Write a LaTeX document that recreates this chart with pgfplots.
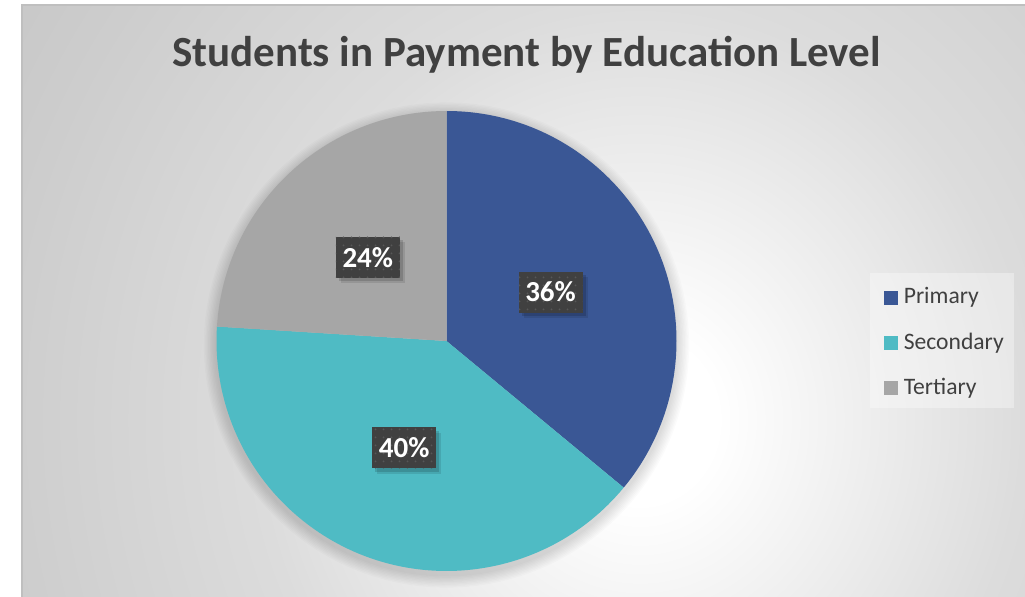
\documentclass[border=0pt]{standalone}
\usepackage{pgfplots}
\pgfplotsset{compat=1.18}
\usepackage{pgfplotstable}
\usepackage{fontspec}
\setmainfont{Carlito}
\usetikzlibrary{patterns.meta,shadows}

\definecolor{cPrimary}{HTML}{3A5795}
\definecolor{cSecondary}{HTML}{4FBBC4}
\definecolor{cTertiary}{HTML}{A6A6A6}
\definecolor{txt}{HTML}{404040}
\definecolor{lblbox}{HTML}{404040}
\definecolor{lbldot}{HTML}{575757}
\definecolor{bgA}{HTML}{DCDCDC}
\definecolor{bgB}{HTML}{CDCDCD}
\definecolor{bgC}{HTML}{C4C4C4}

% background: white spot right of centre, grey towards the edges
\pgfdeclareradialshading{bgshade}{\pgfpoint{0bp}{0bp}}{%
  color(0bp)=(white); color(3bp)=(white); color(15bp)=(bgA);
  color(25bp)=(bgB); color(32bp)=(bgC); color(50bp)=(bgC)}

% share of students (%)
\pgfplotstableread{
level      share
Primary    36
Secondary  40
Tertiary   24
}\shares

\begin{document}
\begin{tikzpicture}[
  lbl/.style={minimum width=32pt, minimum height=20.5pt, inner sep=0pt,
    text=white, font=\fontsize{14.5}{17}\selectfont\bfseries,
    general shadow={fill=black, opacity=0.10, shadow xshift=2.6pt, shadow yshift=-2.6pt},
    general shadow={fill=black, opacity=0.14, shadow xshift=1.6pt, shadow yshift=-1.6pt},
    preaction={fill=lblbox},
    pattern={Dots[distance=4pt, radius=0.55pt]}, pattern color=lbldot},
]
\pgfplotstablegetelem{0}{share}\of\shares\let\sA\pgfplotsretval
\pgfplotstablegetelem{1}{share}\of\shares\let\sB\pgfplotsretval
\pgfplotstablegetelem{2}{share}\of\shares\let\sC\pgfplotsretval
\pgfmathsetmacro\aA{90}
\pgfmathsetmacro\aB{\aA-3.6*\sA}
\pgfmathsetmacro\aC{\aB-3.6*\sB}
\pgfmathsetmacro\aD{\aC-3.6*\sC}
\begin{axis}[
  x=0.5pt, y=0.5pt,
  xmin=0, xmax=1025, ymin=0, ymax=596,
  disabledatascaling,
  hide axis,
  clip=false,
  legend style={at={(axis cs:878,253)}, anchor=west, draw=none, fill=none,
    font=\fontsize{11.8}{14}\selectfont, text=txt, row sep=12.6pt, column sep=1.2pt,
    nodes={inner xsep=1.5pt, inner ysep=0pt, text depth=0.2em, text height=0.8em}},
  legend cell align=left,
  legend image code/.code={\fill[#1] (0pt,-3.5pt) rectangle (7pt,3.5pt);},
]
% chart area
\fill[white] (axis cs:0,-10) rectangle (axis cs:1035,596);
\begin{scope}
  \clip (axis cs:22,-10) rectangle (axis cs:1035,591);
  \shade[shading=bgshade] (axis cs:0,-514) rectangle (axis cs:1280,866);
\end{scope}
\draw[black!25, line width=0.6pt] (axis cs:22,-10) -- (axis cs:22,591) -- (axis cs:1035,591);

% title
\node[anchor=base, text=txt, font=\fontsize{21.5}{26}\selectfont\bfseries]
  at (axis cs:526.5,529) {Students in Payment by Education Level};

% soft shadow round the pie
\pgfplotsinvokeforeach{1,...,9}{
  \fill[black, opacity=0.015] (axis cs:446.5,251) circle[radius=115pt+#1*0.7pt];
}

% slices
\fill[cPrimary]   (axis cs:446.5,255) -- ++(\aA:115pt) arc[start angle=\aA, end angle=\aB, radius=115pt] -- cycle;
\fill[cSecondary] (axis cs:446.5,255) -- ++(\aB:115pt) arc[start angle=\aB, end angle=\aC, radius=115pt] -- cycle;
\fill[cTertiary]  (axis cs:446.5,255) -- ++(\aC:115pt) arc[start angle=\aC, end angle=\aD, radius=115pt] -- cycle;

% data labels
\path (axis cs:446.5,255) ++({(\aA+\aB)/2}:57.5pt) node[lbl] {\sA\%};
\path (axis cs:446.5,255) ++({(\aB+\aC)/2}:57.5pt) node[lbl] {\sB\%};
\path (axis cs:446.5,255) ++({(\aC+\aD)/2}:57.5pt) node[lbl] {\sC\%};

% legend
\fill[white, opacity=0.35] (axis cs:870,188) rectangle (axis cs:1014,323);
\addlegendimage{fill=cPrimary, draw=none}
\addlegendimage{fill=cSecondary, draw=none}
\addlegendimage{fill=cTertiary, draw=none}
\legend{Primary,Secondary,Tertiary}
\end{axis}
\pgfresetboundingbox
\path (0,0) rectangle (512.5pt,298pt);
\end{tikzpicture}
\end{document}
